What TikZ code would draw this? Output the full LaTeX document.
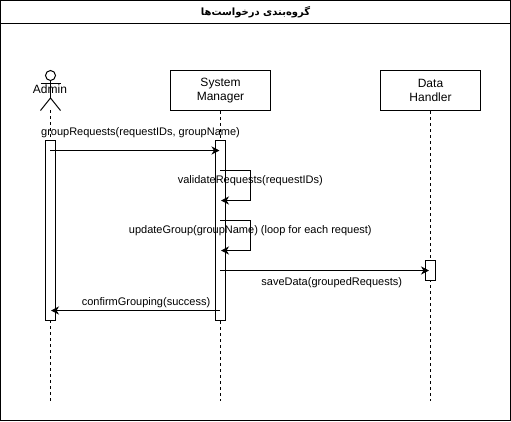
\documentclass[tikz,border=0pt]{standalone}
\usepackage{fontspec}
\setmainfont{Liberation Sans}
\newfontfamily\arabicfont[Script=Arabic]{DejaVu Sans}
\TeXXeTstate=1
\usetikzlibrary{arrows.meta}
\tikzset{
    partbox/.style={draw,fill=white,minimum width=100pt,minimum height=40pt,align=center,inner sep=0pt,font=\fontsize{12}{14}\selectfont},
    actbar/.style={draw,fill=white,minimum width=10pt,inner sep=0pt},
    life/.style={dash pattern=on 3pt off 3pt},
    msg/.style={-{Stealth[length=8pt,width=8pt,inset=2.5pt]}},
    msgtext/.style={font=\fontsize{11}{13}\selectfont,inner sep=0pt,text height=8pt,text depth=2pt}
}
\begin{document}
\begin{tikzpicture}[x=1pt,y=-1pt,line width=1pt]
        \useasboundingbox (0,0) rectangle (511,421);
        \draw (0.5,0.5) rectangle (510.5,420.5);
        \draw (0.5,23.5) -- (510.5,23.5);
        \node[font=\fontsize{10}{14}\selectfont\bfseries\arabicfont] (title) at (255.5,12) {\beginR گروه‌بندی درخواست‌ها\endR};

        % lifelines
        \coordinate (adminTop) at (50.5,110);
        \coordinate (adminEnd) at (50.5,401);
        \node[partbox] (system) at (220.5,90.5) {System\\Manager};
        \coordinate (systemEnd) at (220.5,401);
        \node[partbox] (data) at (430.5,90.5) {Data\\Handler};
        \coordinate (dataEnd) at (430.5,401);
        \draw[life] (adminTop) -- (adminEnd);
        \draw[life] (system) -- (systemEnd);
        \draw[life] (data) -- (dataEnd);

        % actor
        \draw (50.5,75.5) circle (5);
        \draw (50.5,80.5) -- (50.5,98) (40.5,83.5) -- (60.5,83.5);
        \draw (40.5,110.5) -- (50.5,98) -- (60.5,110.5);
        \node[font=\fontsize{12}{14}\selectfont,inner sep=0pt] (admin) at (50,89) {Admin};

        % activations
        \node[actbar,minimum height=180pt] (adminBar) at (50.5,230.5) {};
        \node[actbar,minimum height=180pt] (systemBar) at (220.5,230.5) {};
        \node[actbar,minimum height=20pt] (dataBar) at (430.5,270.5) {};

        % messages
        \coordinate (m1a) at (50,150.5);
        \coordinate (m1b) at (219.5,150.5);
        \draw[msg] (m1a) -- (m1b);
        \node[msgtext] (m1) at (140.5,132) {groupRequests(requestIDs, groupName)};

        \coordinate (m2a) at (220,170.5);
        \coordinate (m2b) at (250.5,170.5);
        \coordinate (m2c) at (250.5,200.5);
        \coordinate (m2d) at (221,200.5);
        \draw[msg] (m2a) -- (m2b) -- (m2c) -- (m2d);
        \node[msgtext] (m2) at (250.3,180) {validateRequests(requestIDs)};

        \coordinate (m3a) at (220,220.5);
        \coordinate (m3b) at (250.5,220.5);
        \coordinate (m3c) at (250.5,250.5);
        \coordinate (m3d) at (221,250.5);
        \draw[msg] (m3a) -- (m3b) -- (m3c) -- (m3d);
        \node[msgtext] (m3) at (250.3,230) {updateGroup(groupName) (loop for each request)};

        \coordinate (m4a) at (220,270.5);
        \coordinate (m4b) at (429,270.5);
        \draw[msg] (m4a) -- (m4b);
        \node[msgtext] (m4) at (331.7,282) {saveData(groupedRequests)};

        \coordinate (m5a) at (220,310.5);
        \coordinate (m5b) at (51,310.5);
        \draw[msg] (m5a) -- (m5b);
        \node[msgtext] (m5) at (146,302) {confirmGrouping(success)};
\end{tikzpicture}
\end{document}
